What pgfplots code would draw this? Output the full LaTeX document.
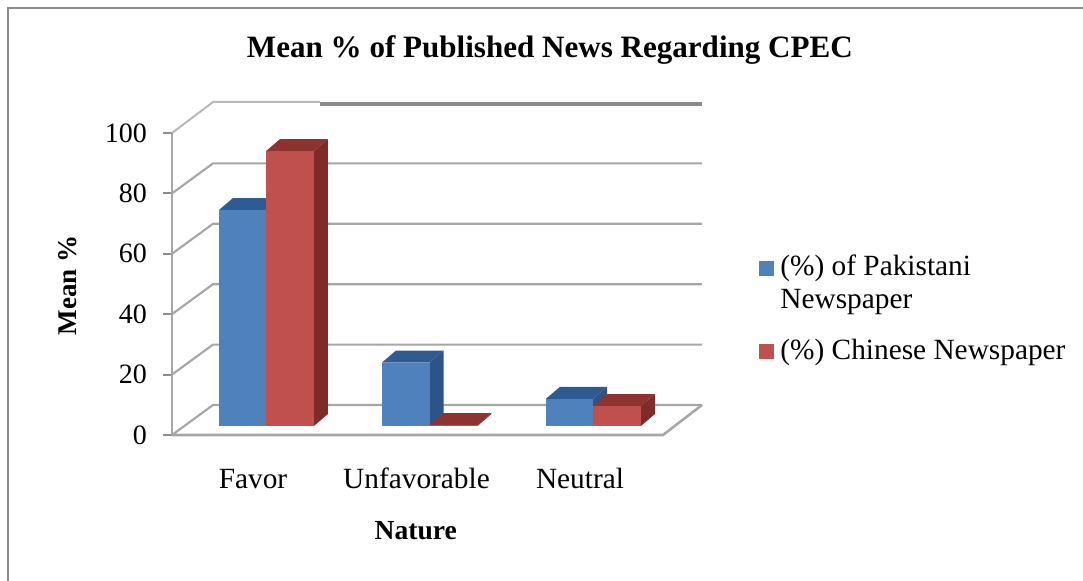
\documentclass[border=0pt]{standalone}
\usepackage{fontspec}
\setmainfont{Liberation Serif}
\usepackage{pgfplots}
\pgfplotsset{compat=1.18}
\definecolor{bluefront}{HTML}{4F81BD}
\definecolor{bluetop}{HTML}{2F5B93}
\definecolor{blueside}{HTML}{2C5488}
\definecolor{redfront}{HTML}{C0504D}
\definecolor{redtop}{HTML}{8E3330}
\definecolor{redside}{HTML}{7F2B29}
\definecolor{gridc}{HTML}{A6A6A6}
\definecolor{framec}{HTML}{8C8C8C}
% depth of the bars and of the floor, in axis units
\newcommand{\bardx}{0.0856}
\newcommand{\bardy}{3.97}
\newcommand{\barbase}{3}
\newcommand{\threeDbar}[6]{%
  \pgfmathsetmacro{\xa}{#1}\pgfmathsetmacro{\xb}{#2}%
  \pgfmathsetmacro{\xc}{#2+\bardx}\pgfmathsetmacro{\xd}{#1+\bardx}%
  \pgfmathsetmacro{\ya}{\barbase}\pgfmathsetmacro{\yb}{\barbase+#3}%
  \pgfmathsetmacro{\yc}{\barbase+#3+\bardy}\pgfmathsetmacro{\ye}{\barbase+\bardy}%
  \addplot[forget plot,fill=#5,draw=none] coordinates {(\xa,\yb)(\xb,\yb)(\xc,\yc)(\xd,\yc)};
  \addplot[forget plot,fill=#6,draw=none] coordinates {(\xb,\ya)(\xc,\ye)(\xc,\yc)(\xb,\yb)};
  \addplot[forget plot,fill=#4,draw=none] coordinates {(\xa,\ya)(\xb,\ya)(\xb,\yb)(\xa,\yb)};
}
\newcommand{\gridat}[1]{%
  \pgfmathsetmacro{\yf}{#1}\pgfmathsetmacro{\yg}{#1+9.93}%
  \addplot[forget plot,gridc,line width=1.6pt] coordinates {(-0.4954,\yf)(-0.2446,\yg)(2.746,\yg)};
}
\begin{document}
\begin{tikzpicture}
\path[use as bounding box] (0,0) rectangle (812.25pt,435.75pt);
\draw[framec,line width=2pt] (6pt,0pt) -- (6pt,429.75pt) -- (812.25pt,429.75pt);
\begin{axis}[
  at={(129pt,109.5pt)},anchor=south west,
  scale only axis,width=397.5pt,height=249.75pt,
  xmin=-0.4954,xmax=2.746,ymin=0,ymax=110.26,
  clip=false,
  axis x line*=bottom,axis y line*=left,
  axis line style={draw=none},
  xtick={0,1,2},xticklabels={Favor,Unfavorable,Neutral},
  ytick={0,20,40,60,80,100},
  x tick style={draw=none},
  y tick style={framec,line width=1.4pt},
  tick align=outside,major tick length=6.75pt,
  /pgf/number format/assume math mode=true,
  xticklabel style={font=\fontsize{22}{26}\selectfont,yshift=-15pt,text height=15pt,text depth=5pt},
  yticklabel style={font=\fontsize{21}{24}\selectfont,xshift=-8.5pt},
  title={\fontsize{23.3}{28}\selectfont\bfseries Mean \% of Published News Regarding CPEC},
  title style={at={(axis description cs:0.713,1.132)},anchor=center},
  xlabel={\fontsize{20.7}{24}\selectfont\bfseries Nature},
  xlabel style={at={(axis description cs:0.46,-0.288)},anchor=center},
  ylabel={\fontsize{20.3}{24}\selectfont\bfseries Mean \%},
  ylabel style={at={(axis description cs:-0.196,0.45)},anchor=center},
  legend style={at={(axis description cs:1.099,0.557)},anchor=north west,draw=none,fill=none,
    nodes={anchor=base west,inner sep=0pt,font=\fontsize{22}{24.75}\selectfont},
    column sep=5pt,row sep=46pt},
  legend image code/.code={\fill[#1,draw=none] (0pt,0pt) rectangle (11.25pt,11.25pt);},
]
% walls and floor
\gridat{0}\gridat{20}\gridat{40}\gridat{60}\gridat{80}
\addplot[forget plot,gridc!80!white,line width=1.5pt] coordinates {(-0.4954,100)(-0.2446,110.26)(0.4083,110.26)};
\addplot[forget plot,framec,line width=2.6pt] coordinates {(0.4083,109.6)(2.746,109.6)};
\addplot[forget plot,gridc,line width=1.6pt] coordinates {(-0.4954,0)(-0.4954,100)};
\addplot[forget plot,gridc,line width=1.9pt] coordinates {(-0.4954,0)(2.5075,0)(2.746,9.93)};
% bars: left edge, right edge, value, front, top, side colours
\threeDbar{-0.208}{0.0795}{71.5}{bluefront}{bluetop}{blueside}
\threeDbar{0.0795}{0.373}{91}{redfront}{redtop}{redside}
\threeDbar{0.789}{1.0795}{21}{bluefront}{bluetop}{blueside}
\threeDbar{1.0795}{1.373}{0.3}{redfront}{redtop}{redside}
\threeDbar{1.792}{2.0795}{9}{bluefront}{bluetop}{blueside}
\threeDbar{2.0795}{2.373}{6.6}{redfront}{redtop}{redside}
\addlegendimage{fill=bluefront}
\addlegendentry{\begin{tabular}[t]{@{}l@{}}(\%) of Pakistani\\[0pt]Newspaper\end{tabular}}
\addlegendimage{fill=redfront}
\addlegendentry{(\%) Chinese Newspaper}
\end{axis}
\end{tikzpicture}
\end{document}
